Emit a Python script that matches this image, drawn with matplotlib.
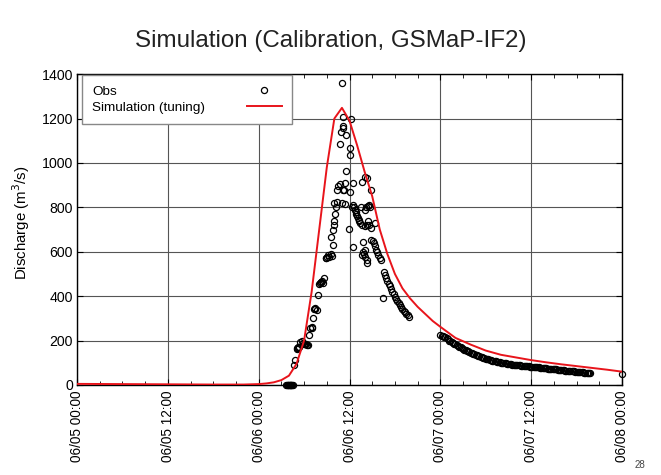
import matplotlib
matplotlib.use('Agg')
import matplotlib.pyplot as plt
import numpy as np

plt.rcParams['font.family'] = ['Liberation Sans', 'DejaVu Sans']

# hours since 06/05 00:00
sim_hours = [0, 6, 12, 18, 22, 24, 25, 26, 27, 28, 29, 30, 31, 32, 33, 34, 35, 36,
             37, 38, 39, 40, 41, 42, 43, 44, 45, 46, 47, 48, 50, 52, 54, 56, 58,
             60, 62, 64, 66, 68, 70, 72]
sim_values = [5, 4, 3, 2, 2, 4, 7, 12, 22, 42, 95, 200, 420, 700, 980, 1200, 1248, 1190,
              1080, 960, 850, 700, 590, 500, 435, 390, 352, 320, 288, 262, 212, 182,
              155, 136, 124, 112, 102, 93, 85, 77, 69, 60]

# observed - zero readings before the rise
obs_zero_hours = [27.67, 27.75, 27.83, 27.92, 28.0, 28.08, 28.17, 28.25, 28.33, 28.42, 28.5]
obs_zero_values = [0, 0, 0, 0, 0, 0, 0, 0, 0, 0, 0]

# observed - rising limb
obs_rise_hours = [28.67, 28.83, 29.0, 29.08, 29.17,
                  29.25, 29.33, 29.5, 29.67, 29.83, 30.0, 30.08, 30.17, 30.25, 30.33,
                  30.5, 30.67, 30.83, 31.0, 31.08, 31.17, 31.33, 31.42, 31.5, 31.67,
                  31.83, 32.0, 32.08, 32.17, 32.25, 32.33, 32.5, 32.67, 32.83, 32.92,
                  33.0, 33.17, 33.33, 33.5, 33.67, 33.83]
obs_rise_values = [90, 113, 160, 165, 168,
                   170, 172, 195, 200, 188, 186, 185, 184, 183, 182,
                   180, 225, 258, 262, 258, 300, 340, 342, 345, 338,
                   405, 455, 458, 462, 465, 468, 458, 480, 570, 573,
                   578, 585, 575, 590, 582, 630]

# observed - peak (scattered readings)
obs_peak_hours = [33.6, 33.8, 34.0, 33.9, 34.1, 34.2, 34.0, 34.3, 34.4, 34.75,
                  34.5, 34.7, 34.85, 35.0, 35.1, 35.15, 35.2, 35.6, 35.6, 35.4,
                  35.3, 35.0, 35.4, 35.2, 35.9, 36.1, 36.1, 36.2, 36.4, 36.0,
                  36.3, 36.5, 36.5, 36.6, 36.7, 36.8, 36.9, 37.0, 37.1, 37.2,
                  37.3, 37.4, 37.6, 37.8, 38.1, 38.3, 38.8, 37.5, 38.0, 38.2,
                  38.4, 38.6, 38.7, 38.5, 38.3, 38.0, 37.7, 38.6, 38.1, 37.8,
                  38.1, 38.3, 37.9, 38.9, 39.1, 39.2, 39.4, 38.8, 37.6, 38.3,
                  40.4]
obs_peak_values = [665, 698, 720, 740, 768, 803, 820, 826, 880, 905,
                   895, 1085, 1138, 1359, 1157, 1165, 1206, 1126, 965, 908,
                   880, 818, 815, 880, 703, 1066, 1036, 1198, 910, 870,
                   803, 811, 623, 800, 790, 780, 770, 760, 752, 745,
                   738, 730, 916, 645, 938, 930, 878, 800, 790, 800,
                   805, 810, 800, 740, 722, 718, 720, 720, 608, 600,
                   575, 565, 590, 655, 650, 640, 728, 706, 585, 548,
                   391]

# observed - falling limb
obs_fall_hours = [39.33, 39.5, 39.67, 39.83, 40.0, 40.17,
                  40.5, 40.67, 40.83, 41.0, 41.17, 41.33, 41.5, 41.67, 41.83, 42.0,
                  42.17, 42.33, 42.5, 42.67, 42.83, 43.0, 43.17, 43.33, 43.5, 43.67, 43.83]
obs_fall_values = [625, 610, 598, 585, 572, 563,
                   510, 495, 480, 468, 455, 445, 432, 420, 410, 398,
                   388, 378, 368, 360, 350, 342, 335, 328, 320, 314, 308]

# observed - recession, 10-minute readings from 06/07 00:00, plus last reading
obs_rec_hours = list(np.arange(48, 68, 1 / 6)) + [72]
obs_rec_values = [225, 222, 220, 217, 214, 211, 208, 200, 196, 193, 190, 186,
                  183, 180, 177, 173, 170, 166, 162, 159, 156, 153, 151, 148,
                  146, 143, 141, 138, 136, 133, 131, 129, 127, 124, 122, 120,
                  118, 116, 115, 113, 112, 110, 109, 107, 106, 105, 104, 102,
                  101, 100, 99, 98, 97, 96, 95, 94, 93, 92, 92, 91,
                  90, 89, 89, 88, 87, 86, 86, 85, 85, 84, 84, 83,
                  83, 82, 81, 80, 80, 79, 79, 78, 77, 76, 76, 75,
                  75, 74, 73, 72, 72, 71, 71, 70, 70, 69, 68, 67,
                  67, 66, 66, 65, 64, 63, 63, 62, 62, 61, 61, 60,
                  60, 59, 59, 58, 57, 57, 56, 55, 55, 54, 54, 53,
                  50]

obs_hours = obs_zero_hours + obs_rise_hours + obs_peak_hours + obs_fall_hours + obs_rec_hours
obs_values = obs_zero_values + obs_rise_values + obs_peak_values + obs_fall_values + obs_rec_values

tick_hours = [0, 12, 24, 36, 48, 60, 72]
tick_labels = ['06/05 00:00', '06/05 12:00', '06/06 00:00', '06/06 12:00',
               '06/07 00:00', '06/07 12:00', '06/08 00:00']

fig = plt.figure(figsize=(6.61, 4.75), dpi=100)
ax = fig.add_axes([0.1165, 0.1895, 0.8245, 0.6545])

ax.plot(obs_hours, obs_values, 'o', ms=4.4, mfc='none', mec='black', mew=0.9,
        label='Obs', clip_on=False, zorder=3)
ax.plot(sim_hours, sim_values, '-', color='#e8141b', lw=1.4,
        label='Simulation (tuning)', zorder=4)

ax.set_xlim(0, 72)
ax.set_ylim(0, 1400)
ax.set_xticks(tick_hours)
ax.set_xticklabels(tick_labels, rotation=90, fontsize=9.8)
ax.set_xticks(np.arange(0, 73, 3), minor=True)
ax.set_yticks(np.arange(0, 1401, 200))
ax.tick_params(axis='y', labelsize=10.2, pad=3)
ax.tick_params(axis='x', pad=4)
ax.tick_params(which='both', direction='in', top=True, right=True)
ax.tick_params(which='major', length=4)
ax.tick_params(which='minor', length=3)
ax.grid(True, which='major', color='#555555', lw=0.8)
ax.set_axisbelow(True)
for s in ax.spines.values():
    s.set_linewidth(1.0)

ax.set_ylabel('Discharge (m$^3$/s)', fontsize=10.8)
ax.yaxis.set_label_coords(-0.083, 0.52)

leg = ax.legend(loc='upper left', bbox_to_anchor=(0.009, 0.997), borderaxespad=0,
                markerfirst=False, fontsize=9.7, handlelength=2.6, handletextpad=3.1,
                labelspacing=0.3, borderpad=0.75, fancybox=False, framealpha=1)
leg.get_frame().set_edgecolor('#888888')
leg.get_frame().set_linewidth(1.0)

# legend texts left aligned, handles right aligned
fig.canvas.draw()
r = fig.canvas.get_renderer()
widths = [t.get_window_extent(r).width for t in leg.get_texts()]
rows = leg._legend_handle_box.get_children()[0].get_children()
for row, w in zip(rows, widths):
    row.sep += (max(widths) - w) * 72 / fig.dpi

fig.text(0.5, 0.914, 'Simulation (Calibration, GSMaP-IF2)', ha='center', va='center',
         fontsize=17.4, color='#222222')
fig.text(0.968, 0.022, '28', ha='center', va='center', fontsize=7, color='#444444',
         family=['Liberation Sans Narrow', 'Liberation Sans'])

fig.savefig('out.png', dpi=100)
